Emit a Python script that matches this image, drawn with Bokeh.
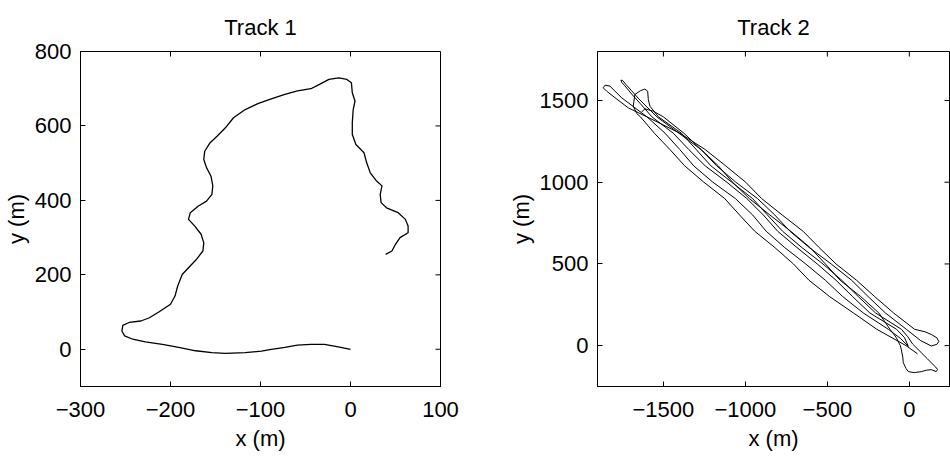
import math
from bokeh.plotting import figure
from bokeh.models import Range1d, FixedTicker
from bokeh.layouts import row
from bokeh.embed import file_html
from bokeh.resources import INLINE

FONT = "Liberation Sans"

# ---------------- Track 1 data ----------------
track1_x = [0, -15, -29, -44, -59, -73, -88, -99, -117, -139,
            -154, -172, -191, -209, -228, -242, -251, -254, -253, -246,
            -233, -224, -213, -200, -195, -192, -187, -180, -171, -164,
            -163, -166, -173, -180, -178, -169, -160, -154, -153, -155,
            -160, -163, -162, -156, -148, -139, -130, -117, -103, -88,
            -73, -59, -44, -35, -24, -13, -4, 1, 2, 5,
            3, 2, 2, 6, 15, 18, 22, 29, 35, 33,
            34, 40, 53, 61, 64, 64, 55, 50, 46, 39]
track1_y = [0, 7, 13, 13, 11, 5, 0, -5, -9, -11,
            -9, -4, 5, 13, 20, 27, 36, 49, 64, 72,
            76, 84, 100, 121, 143, 170, 201, 219, 242, 264,
            286, 309, 331, 349, 367, 385, 398, 416, 439, 465,
            488, 510, 532, 555, 573, 595, 622, 644, 660, 673,
            685, 694, 700, 711, 725, 729, 725, 716, 689, 667,
            644, 609, 577, 550, 528, 501, 474, 452, 439, 416,
            394, 380, 367, 349, 331, 313, 300, 282, 264, 255]

# ---------------- Track 2 data (one continuous track, 7 passes) ----------------
track2_x = [
    # pass 1 (down)
    -1633, -1613, -1562, -1500, -1375, -1270, -1175, -1058, -926, -821, -728, -610, -477, -352, -251, -146, -18,
    # turn E
    70, 134, 168, 180, 168, 135, 95,
    # pass 2 (up)
    32, -96, -211, -322, -447, -550, -648, -776, -901, -998, -1120, -1245, -1400, -1600,
    # turn A
    -1714, -1795, -1846, -1867, -1856, -1826, -1795, -1755, -1714,
    # pass 3 (down)
    -1600, -1490, -1400, -1315, -1198, -1061, -956, -873, -760, -632, -512, -406, -281, -128, -55,
    # turn F
    -6,
    # pass 4 (up)
    -30, -78, -241, -346, -447, -562, -685, -803, -891, -991, -1113, -1245, -1345, -1440, -1570,
    # turn B
    -1640, -1694, -1735, -1755, -1759, -1748, -1730, -1694, -1650, -1600,
    # pass 5 (down)
    -1540, -1405, -1270, -1165, -1078, -976, -851, -723, -605, -512, -422, -296, -186, -118,
    # turn G
    -80, -55, -49, -40, -37, -20, -6, 30, 73, 105, 134, 164, 172, 158, 110, 73, 20, -10,
    # pass 6 (up)
    -48, -206, -311, -412, -527, -655, -773, -866, -956, -1083, -1210, -1300, -1390, -1530, -1582,
    # turn C
    -1592, -1596, -1613, -1640, -1674, -1684, -1663,
    # pass 7 (down)
    -1640, -1555, -1460, -1370, -1253, -1126, -1036, -943, -820, -707, -612, -486, -341, -198, -20, 50]
track2_y = [
    1429, 1449, 1435, 1400, 1300, 1200, 1100, 1000, 900, 800, 700, 600, 500, 400, 300, 200, 100,
    30, -2, 8, 25, 48, 68, 85,
    100, 200, 300, 400, 500, 600, 700, 800, 900, 1000, 1100, 1200, 1300, 1400,
    1455, 1517, 1557, 1578, 1594, 1588, 1557, 1517, 1486,
    1400, 1300, 1200, 1100, 1000, 900, 800, 700, 600, 500, 400, 300, 200, 100, 45,
    -4,
    50, 100, 200, 300, 400, 500, 600, 700, 800, 900, 1000, 1100, 1200, 1300, 1400,
    1480, 1540, 1590, 1612, 1625, 1622, 1600, 1560, 1510, 1460,
    1400, 1300, 1200, 1100, 1000, 900, 800, 700, 600, 500, 400, 300, 200, 100,
    50, 0, -24, -70, -104, -140, -159, -165, -159, -150, -147, -159, -145, -129, -80, -43, 10, 55,
    100, 200, 300, 400, 500, 600, 700, 800, 900, 1000, 1100, 1200, 1300, 1400, 1465,
    1506, 1557, 1570, 1560, 1537, 1466, 1421,
    1400, 1300, 1200, 1100, 1000, 900, 800, 700, 600, 500, 400, 300, 200, 100, 0, -50]

# ---------------- ticks ----------------
t1_xticks = [-300, -200, -100, 0, 100]
t1_xlabels = ["\u2212300", "\u2212200", "\u2212100", "0", "100"]
t1_yticks = [0, 200, 400, 600, 800]
t1_ylabels = ["0", "200", "400", "600", "800"]
t2_xticks = [-1500, -1000, -500, 0]
t2_xlabels = ["\u22121500", "\u22121000", "\u2212500", "0"]
t2_yticks = [0, 500, 1000, 1500]
t2_ylabels = ["0", "500", "1000", "1500"]


def style_axis(ax, label_standoff, axis_label_standoff):
    ax.axis_line_color = "black"
    ax.axis_line_width = 1
    ax.major_tick_line_color = "black"
    ax.major_tick_in = 5
    ax.major_tick_out = 0
    ax.minor_tick_line_color = None
    ax.major_label_text_font = FONT
    ax.major_label_text_font_size = "22px"
    ax.major_label_text_color = "black"
    ax.major_label_standoff = label_standoff
    ax.axis_label_text_font = FONT
    ax.axis_label_text_font_size = "22px"
    ax.axis_label_text_font_style = "normal"
    ax.axis_label_text_color = "black"
    ax.axis_label_standoff = axis_label_standoff


def make_fig(title, xr, yr, xt, xl, yt, yl, left, fw, right):
    p = figure(x_range=Range1d(*xr), y_range=Range1d(*yr),
               frame_width=fw, frame_height=335,
               min_border_left=left, min_border_right=right,
               min_border_top=44, min_border_bottom=60,
               output_backend="svg", toolbar_location=None, tools="",
               x_axis_label="x (m)", y_axis_label="y (m)")
    p.title.text = title
    p.title.align = "center"
    p.title.text_font = FONT
    p.title.text_font_size = "22px"
    p.title.text_font_style = "normal"
    p.title.text_color = "black"
    p.title.standoff = 24
    p.xgrid.visible = False
    p.ygrid.visible = False
    p.outline_line_color = "black"
    p.outline_line_alpha = 1.0
    p.background_fill_color = "white"
    p.border_fill_color = "white"

    p.xaxis[0].ticker = FixedTicker(ticks=xt)
    p.xaxis[0].major_label_overrides = dict(zip(xt, xl))
    p.yaxis[0].ticker = FixedTicker(ticks=yt)
    p.yaxis[0].major_label_overrides = dict(zip(yt, yl))
    style_axis(p.xaxis[0], 15, 6)
    style_axis(p.yaxis[0], 9, 3)

    # mirrored inward ticks on the top and right edges of the box
    p.ray(x=xt, y=[yr[1]] * len(xt), length=5, length_units="screen",
          angle=-math.pi / 2, line_color="black", line_width=1)
    p.ray(x=[xr[1]] * len(yt), y=yt, length=5, length_units="screen",
          angle=math.pi, line_color="black", line_width=1)
    return p


p1 = make_fig("Track 1", (-300, 100), (-100, 800), t1_xticks, t1_xlabels,
              t1_yticks, t1_ylabels, 72, 360, 60)
p1.line(track1_x, track1_y, line_color="black", line_width=1.3, line_join="round")

p2 = make_fig("Track 2", (-1902, 245), (-250, 1800), t2_xticks, t2_xlabels,
              t2_yticks, t2_ylabels, 97, 352, 1)
p2.line(track2_x, track2_y, line_color="black", line_width=1.0, line_join="round")

layout = row(p1, p2)
open("out.html", "w").write(file_html(layout, INLINE))
